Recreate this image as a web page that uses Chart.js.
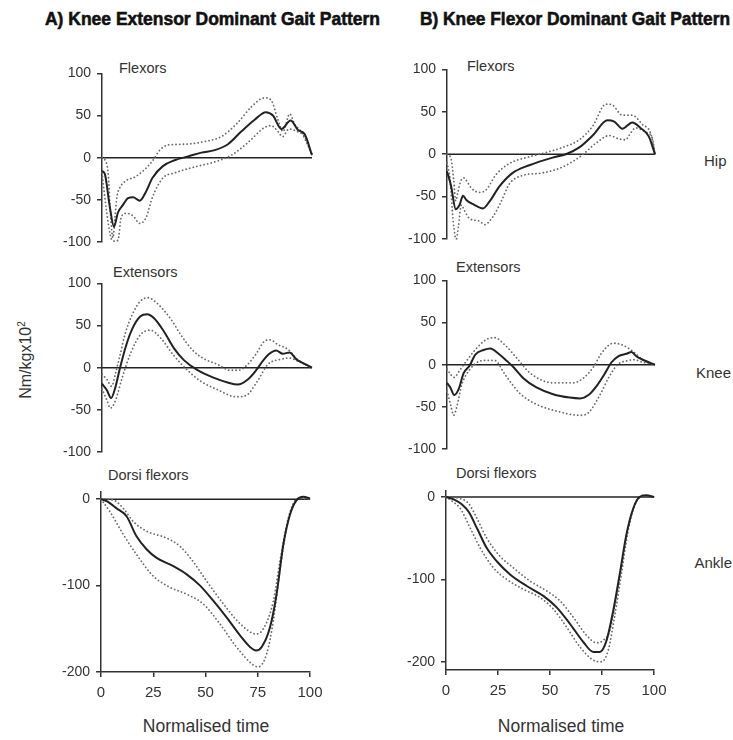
<!DOCTYPE html>
<html>
<head>
<meta charset="utf-8">
<script src="https://cdn.jsdelivr.net/npm/chart.js@4.4.0/dist/chart.umd.min.js"></script>
<style>
  body { margin: 0; background: #fff; width: 733px; height: 740px; position: relative; overflow: hidden;
         font-family: "Liberation Sans", Arial, sans-serif; color: #333; }
  canvas { position: absolute; }
  .lbl { position: absolute; white-space: nowrap; line-height: 1; transform: translateY(-50%); }
  .head { font-family: "Liberation Sans Narrow", "Liberation Sans", Arial, sans-serif; font-weight: bold;
          font-size: 19px; color: #111; -webkit-text-stroke: 0.6px #111; transform-origin: left center; }
  .part { font-size: 14.5px; }
  .joint { font-size: 15px; text-align: right; }
  .xt { font-size: 17.5px; transform: translate(-50%, -50%); }
  .yt { font-size: 16px; transform: translate(-50%, -50%) rotate(-90deg); }
  .yt sup { font-size: 10px; vertical-align: 6px; }
</style>
</head>
<body>
<div class="lbl head" id="titleA" style="left:45px; top:18px;">A) Knee Extensor Dominant Gait Pattern</div>
<div class="lbl head" id="titleB" style="left:420px; top:18px;">B) Knee Flexor Dominant Gait Pattern</div>

<div class="lbl part" style="left:119px; top:68px;">Flexors</div>
<div class="lbl part" style="left:113px; top:272px;">Extensors</div>
<div class="lbl part" style="left:108px; top:475px;">Dorsi flexors</div>
<div class="lbl part" style="left:467px; top:66px;">Flexors</div>
<div class="lbl part" style="left:456px; top:267px;">Extensors</div>
<div class="lbl part" style="left:456px; top:473px;">Dorsi flexors</div>

<div class="lbl joint" style="left:704px; top:160px;">Hip</div>
<div class="lbl joint" style="right:2px; top:372px;">Knee</div>
<div class="lbl joint" style="right:1px; top:562px;">Ankle</div>

<div class="lbl xt" style="left:206px; top:727px;">Normalised time</div>
<div class="lbl xt" style="left:561px; top:727px;">Normalised time</div>
<div class="lbl yt" style="left:25px; top:360px;">Nm/kgx10<sup>2</sup></div>

<script>
// [normalised time, moment] pairs: mean, upper and lower band per joint
const hipA_mean = [[0,-16],[1.3,-19],[3.7,-58],[5.7,-82],[7.6,-65],[10,-56],[12.4,-48],[14.8,-47],[18,-51],[21,-40],[24,-24],[29,-10],[34.6,-3],[41,1.5],[47.3,6],[53.7,9],[60,16],[66.3,31],[72.7,45],[78,54],[81.4,50],[85.4,34],[89.8,44],[93.3,33],[96.5,28],[100,3]];
const hipA_upper = [[0,0],[1.5,-3],[2.9,-18],[4.1,-69],[5.2,-95],[6.2,-70],[7.2,-45],[8.4,-36],[11.6,-27],[15.6,-23],[20.3,-14],[24.3,-3],[27.5,9],[31.4,15],[39.4,16],[50.5,20],[56.8,25],[64.8,42],[71,60],[77.5,71],[80.6,68],[83.8,45],[86.2,31],[89.4,52],[91.7,40],[95,30],[100,4]];
const hipA_lower = [[0,-18],[2,-60],[4.4,-96],[6,-99],[7.6,-98],[9.2,-70],[11.6,-66],[14.8,-69],[18,-78],[21,-71],[24,-47],[29,-24],[34.6,-18],[44,-11],[53.7,-5],[61.6,3],[69.5,18],[77.5,36],[80.6,38],[83.8,31],[86,25],[89,34],[93,31],[96.5,25],[100,2]];

const hipB_mean = [[0,-20],[2,-38],[4.2,-65],[6,-60],[7.7,-49],[9.3,-54],[12.5,-59],[17.3,-64],[20.4,-56],[25.2,-38],[31.6,-22],[39.6,-13],[50.8,-4],[57.2,0],[63.6,8],[70,22],[77.2,40],[80.4,38.5],[84.3,30],[89.1,37.5],[93,31],[97,21],[100,0]];
const hipB_upper = [[0,0],[2,-6],[3.2,-30],[4.2,-55],[5.2,-45],[6.9,-30],[8.3,-28],[9.3,-31],[11.7,-40],[15.7,-45],[18.8,-42],[23.6,-24],[30,-11],[39.6,-3],[46,1],[55.6,8],[63.6,17],[70,33],[76.4,59],[79.5,58],[84.3,46],[89,46],[94,35],[98,24],[100,0]];
const hipB_lower = [[0,-10],[1.5,-30],[3,-80],[4.5,-100],[5.5,-85],[6.9,-60],[8.5,-67],[10.9,-76],[15.7,-79],[18,-83],[22,-74],[26,-56],[30,-35],[36.4,-25],[46,-22],[55.6,-15],[65,-1],[71.6,13],[78,22],[82.7,18],[86,17],[87.5,22],[90.7,31],[95.5,26],[98.7,19],[100,0]];

const kneeA_mean = [[0,-19],[2.4,-27],[4.3,-36],[6.4,-23],[8.5,-1],[11.2,24],[14.4,46],[18.3,61],[21.5,63.5],[24.7,59],[29.5,43],[34.3,23],[39,9],[45.5,-3],[53.4,-12],[59.8,-17.5],[64.6,-20],[69.4,-14],[73.4,-3],[76.6,8],[79.7,16.5],[82.9,20.5],[86.1,16.5],[89.3,18],[92.5,10],[96.5,4.5],[100,0]];
const kneeA_upper = [[0,-8],[2.4,-14],[4.5,-22],[6.5,-6],[8.5,14],[11,40],[14.4,63],[18.3,79],[22,83],[25,79],[29.5,68],[33.5,55],[37.5,39],[43.9,19],[49,10],[55,4],[61,-3],[65,-3],[69,3],[73,15],[77.7,32],[80,33],[84,27],[88.5,22],[93,10],[96.5,4],[100,0]];
const kneeA_lower = [[0,-25],[2.4,-39],[4,-48],[6.4,-39],[9.6,-12],[13.6,17],[18.3,39],[23,44.5],[28,35],[34,15],[40.7,-3],[47,-16],[55,-26],[63.8,-34.5],[68.6,-33],[74,-16],[79,4],[85.3,10],[89.3,11.5],[93,8],[100,0]];

const kneeB_mean = [[0,-21.5],[1.6,-27],[3.5,-36],[5.6,-29],[8,-10],[10.9,-1],[13.6,12],[17.6,17.5],[20.8,19.3],[24.8,13],[28.8,4.4],[32,-3],[36.7,-16],[43,-27],[51,-35],[59,-39],[64,-40],[68,-36],[72,-25],[76,-10],[79,2.6],[82.3,10],[86.3,13],[88.7,15],[91,10],[95,5],[100,0]];
const kneeB_upper = [[0,-5],[1.9,-12],[3.5,-15],[5.6,-8.5],[8.8,2.6],[12.8,15.5],[19,30],[23,32],[28,23],[33.5,8],[40,-10],[51,-21.5],[60.7,-21.5],[65.5,-16],[70.3,-3],[74.3,13.7],[80,25.5],[84.7,23],[89.5,15.5],[94,6],[100,0]];
const kneeB_lower = [[0,-31],[1.9,-49],[3.2,-60],[4.8,-49],[7.2,-23],[11.2,-5],[16,4.4],[20,5.2],[23,5],[28,-12],[35,-34],[43,-47],[52.7,-55],[64,-60],[68,-57],[73.5,-36],[78,-14],[82.3,0.7],[86.3,4.4],[90,6],[94,3],[100,0]];

const ankleA_mean = [[0,0],[2.7,-2.3],[7.5,-10.7],[12.3,-20],[17,-43],[21.8,-58],[26.6,-68],[34.6,-77.5],[41,-87],[47.4,-100],[53.7,-117.5],[60,-136.6],[66.5,-157.6],[71.3,-171],[74.2,-175],[76.9,-171],[80.9,-148],[84,-110],[87.2,-53],[90.4,-18],[93.6,-1],[96.8,2.7],[100,0.8]];
const ankleA_upper = [[0,0],[5.9,-1],[10.7,-10.7],[15.5,-26],[21.8,-37],[31.4,-45],[37.8,-54.6],[44,-72],[50.6,-95],[58.5,-121],[66.5,-144],[74.2,-156],[77.7,-150],[82.5,-117.5],[85.6,-72],[89.6,-22],[92.8,-3],[96.8,1.5],[100,0]];
const ankleA_lower = [[0,0],[4.3,-14.5],[10.7,-41],[17,-64],[25,-89],[33,-102],[41,-110],[48.8,-121],[56.8,-144],[64.8,-171],[72.9,-192],[75.3,-194],[79.3,-178.6],[82.5,-140],[85.6,-83],[88.8,-33.6],[92,-5],[95.2,0.8],[100,0]];

const ankleB_mean = [[0,0],[3.7,-2.8],[7.7,-9],[10.9,-18],[14.9,-38],[19.6,-62],[24.4,-78],[30.8,-94],[38.8,-108],[46.8,-120],[53.2,-134],[59.6,-154],[66,-176],[70.8,-188],[74,-188],[77.2,-174],[80.4,-138],[83.5,-94],[86.7,-46],[90,-14],[93,0],[96.3,2],[100,0]];
const ankleB_upper = [[0,0],[6.9,-2],[10.9,-8],[14.9,-26],[19.6,-50],[26,-72],[32.4,-86],[40.4,-102],[48.4,-114],[54.8,-126],[61.2,-146],[67.6,-168],[72.4,-177],[75.6,-174],[78.8,-162],[81,-134],[84.3,-86],[87.5,-38],[90.7,-10],[94.7,2],[100,0]];
const ankleB_lower = [[0,0],[2.9,-5],[6.9,-14],[11.7,-38],[16.5,-62],[22.8,-86],[29.2,-100],[37.2,-112],[45.2,-122],[51.6,-136],[58,-158],[64.4,-182],[70.8,-198],[74.8,-200],[78,-186],[81,-146],[84.3,-94],[87.5,-42],[90.7,-10],[93,-1],[96.3,2],[100,0]];

const zeroLine = [[0,0],[100,0]];
const timeTicks = [0, 25, 50, 75, 100];
const jointTicks = [-100, -50, 0, 50, 100];
const ankleTicks = [-200, -100, 0];

const INK = '#333';
const FONT = "'Liberation Sans', Arial, sans-serif";

// plot-area rectangle (page px) and value range for each panel
const panels = [
  { left: 102, top: 71,  right: 312, bottom: 254, min: -100, max: 100, ticks: jointTicks, lines: [hipA_mean, hipA_upper, hipA_lower] },
  { left: 102, top: 281, right: 312, bottom: 464, min: -100, max: 100, ticks: jointTicks, lines: [kneeA_mean, kneeA_upper, kneeA_lower] },
  { left: 101, top: 489, right: 310, bottom: 672, min: -200, max: 9,   ticks: ankleTicks, lines: [ankleA_mean, ankleA_upper, ankleA_lower], time: true },
  { left: 447, top: 67,  right: 655, bottom: 251, min: -100, max: 100, ticks: jointTicks, lines: [hipB_mean, hipB_upper, hipB_lower] },
  { left: 447, top: 278, right: 655, bottom: 461, min: -100, max: 100, ticks: jointTicks, lines: [kneeB_mean, kneeB_upper, kneeB_lower] },
  { left: 446, top: 488, right: 654, bottom: 670, min: -210, max: 8,   ticks: ankleTicks, lines: [ankleB_mean, ankleB_upper, ankleB_lower], time: true }
];

const pts = arr => arr.map(([x, y]) => ({ x, y }));

function solid(arr) {
  return { data: pts(arr), borderColor: '#222', borderWidth: 2, pointRadius: 0,
           cubicInterpolationMode: 'monotone', clip: 6 };
}
function dotted(arr) {
  return { data: pts(arr), borderColor: '#6a6a6a', borderWidth: 1.8, borderDash: [0.1, 3.6],
           borderCapStyle: 'round', pointRadius: 0, cubicInterpolationMode: 'monotone', clip: 6 };
}

function makePanel(p) {
  const padL = 60, padT = 12, padR = 22, padB = p.time ? 48 : 12;
  const cv = document.createElement('canvas');
  cv.width = (p.right - p.left) + padL + padR;
  cv.height = (p.bottom - p.top) + padT + padB;
  cv.style.left = (p.left - padL) + 'px';
  cv.style.top = (p.top - padT) + 'px';
  document.body.appendChild(cv);

  const tickGrid = { display: true, drawOnChartArea: false, drawTicks: true, tickLength: 5, color: INK, lineWidth: 1.5 };

  new Chart(cv, {
    type: 'line',
    data: {
      datasets: [
        solid(p.lines[0]),
        dotted(p.lines[1]),
        dotted(p.lines[2]),
        { data: pts(zeroLine), borderColor: '#222', borderWidth: 1.5, pointRadius: 0 }
      ]
    },
    options: {
      responsive: false,
      animation: false,
      events: [],
      layout: { padding: { left: 0, top: padT, right: padR, bottom: p.time ? 0 : padB } },
      plugins: { legend: { display: false }, tooltip: { enabled: false } },
      scales: {
        x: {
          type: 'linear', min: 0, max: 100,
          display: !!p.time,
          afterFit: s => { s.height = padB; },
          afterBuildTicks: s => { s.ticks = timeTicks.map(v => ({ value: v })); },
          grid: tickGrid,
          border: { display: true, color: INK, width: 1.5 },
          ticks: { color: INK, padding: 7, maxRotation: 0, font: { family: FONT, size: 15 } }
        },
        y: {
          min: p.min, max: p.max,
          afterFit: s => { s.width = padL; },
          afterBuildTicks: s => { s.ticks = p.ticks.map(v => ({ value: v })); },
          grid: tickGrid,
          border: { display: true, color: INK, width: 1.5 },
          ticks: { color: INK, padding: 6, font: { family: FONT, size: 14 } }
        }
      }
    }
  });
}

panels.forEach(makePanel);

// squeeze the bold headings to their column widths
[['titleA', 335], ['titleB', 310]].forEach(([id, w]) => {
  const el = document.getElementById(id);
  const k = w / el.getBoundingClientRect().width;
  el.style.transform = 'translateY(-50%) scaleX(' + k + ')';
});
</script>
</body>
</html>
